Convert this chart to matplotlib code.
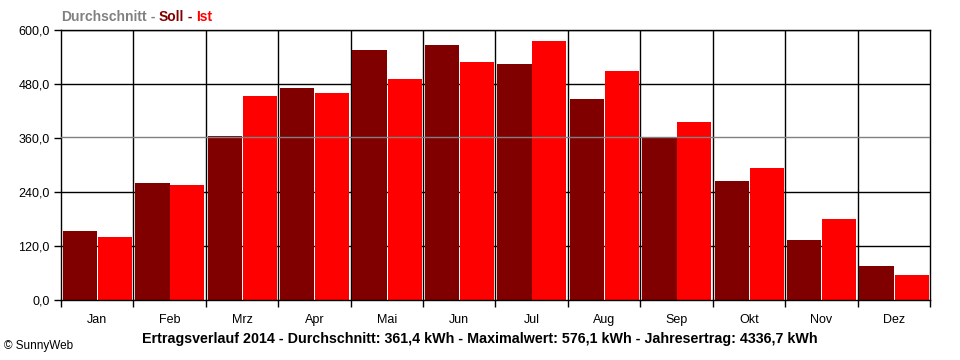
import matplotlib
matplotlib.use("Agg")
import matplotlib.pyplot as plt
import numpy as np

months = ["Jan", "Feb", "Mrz", "Apr", "Mai", "Jun", "Jul", "Aug", "Sep", "Okt", "Nov", "Dez"]
soll = [154, 261, 365, 472, 556, 567, 525, 447, 360, 265, 134, 76]
ist = [140, 255, 454, 460, 491, 529, 576.1, 509, 395, 293, 180, 54.6]
average = 361.4
yticks = [0, 120, 240, 360, 480, 600]
ytick_labels = ["0,0", "120,0", "240,0", "360,0", "480,0", "600,0"]
title_parts = [("Durchschnitt", "#808080"), (" - ", "#808080"), ("Soll", "#800000"),
               (" - ", "#800000"), ("Ist", "#ff0000")]
footer = "Ertragsverlauf 2014 - Durchschnitt: 361,4 kWh - Maximalwert: 576,1 kWh - Jahresertrag: 4336,7 kWh"
copyright_text = "© SunnyWeb"

plt.rcParams['font.family'] = ['Liberation Sans', 'DejaVu Sans']

fig = plt.figure(figsize=(9.6, 3.6), dpi=100)
ax = fig.add_axes([61/960, 60/360, 869/960, 270/360])

x = np.arange(len(months))
ax.bar(x + 0.025, soll, width=0.475, align='edge', color='#800000', zorder=2)
ax.bar(x + 0.51, ist, width=0.47, align='edge', color='#ff0000', zorder=2)

ax.set_xlim(0, 12)
ax.set_ylim(0, 600)

# gridlines
for yv in yticks[1:]:
    if yv != 360:
        ax.axhline(yv, color='black', lw=1, zorder=1)
for xv in range(1, 12):
    ax.axvline(xv, color='black', lw=1, zorder=1)
ax.axhline(average, color='#808080', lw=1, zorder=3)

for s in ax.spines.values():
    s.set_color('black')
    s.set_linewidth(1)

ax.set_yticks(yticks)
ax.set_yticklabels(ytick_labels, fontsize=9)
ax.set_xticks(np.arange(13))
ax.set_xticklabels([])
ax.set_xticks(x + 0.5, minor=True)
ax.set_xticklabels(months, minor=True, fontsize=9)
ax.tick_params(axis='x', which='major', length=5, width=1, direction='out')
ax.tick_params(axis='x', which='minor', length=0, pad=10)
ax.tick_params(axis='y', length=5, width=1, direction='out', pad=3)

# title in colored parts
fig.canvas.draw()
renderer = fig.canvas.get_renderer()
xpos = 61 / 960
for txt, col in title_parts:
    t = fig.text(xpos, 1 - 17/360, txt, color=col, fontsize=10, fontweight='bold',
                 ha='left', va='center')
    bb = t.get_window_extent(renderer=renderer)
    xpos = (bb.x1) / 960

fig.text(480/960, 1 - 339/360, footer, fontsize=10.3, fontweight='bold', ha='center', va='center')
fig.text(4/960, 1 - 346/360, copyright_text, fontsize=8.5, ha='left', va='center')

fig.savefig("out.png", dpi=100)
